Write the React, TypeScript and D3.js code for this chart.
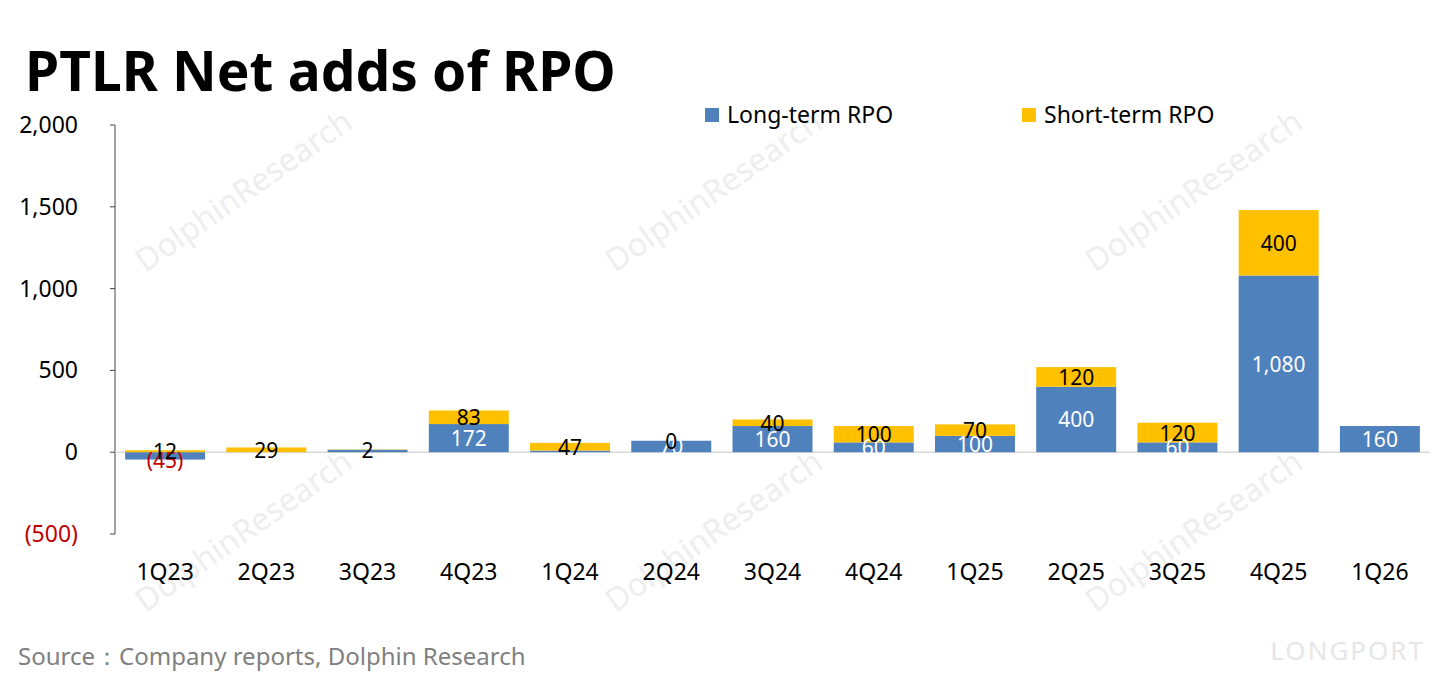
import { useRef, useEffect } from "react";
import * as d3 from "d3";

const categories = ["1Q23", "2Q23", "3Q23", "4Q23", "1Q24", "2Q24", "3Q24", "4Q24", "1Q25", "2Q25", "3Q25", "4Q25", "1Q26"];
const longTerm = [-45, 0, 15, 172, 10, 70, 160, 60, 100, 400, 60, 1080, 160];
const shortTerm = [12, 29, 2, 83, 47, 0, 40, 100, 70, 120, 120, 400, 0];
const yTicks = [-500, 0, 500, 1000, 1500, 2000];

const BLUE = "#4f81bd";
const GOLD = "#ffc000";
const FONT = "'Noto Sans', 'Open Sans', sans-serif";

export default function App() {
  const ref = useRef<SVGSVGElement | null>(null);

  useEffect(() => {
    const svg = d3.select(ref.current);
    svg.selectAll("*").remove();
    const W = 1440, H = 684;

    svg.append("rect").attr("x", 1).attr("y", 1).attr("width", W - 2).attr("height", H - 2)
      .attr("fill", "#fff").attr("stroke", "#ddd").attr("stroke-width", 2);

    // faint watermarks
    const wm = [[250, 200], [720, 200], [1200, 200], [250, 540], [720, 540], [1200, 540]];
    wm.forEach(([x, y]) => {
      svg.append("text").attr("transform", `translate(${x},${y}) rotate(-35)`)
        .attr("text-anchor", "middle").attr("font-family", FONT).attr("font-size", 32)
        .attr("fill", "#eeeeee").text("DolphinResearch");
    });

    const x = d3.scaleBand<string>().domain(categories).range([115, 1430]).paddingInner(0.21).paddingOuter(0.1);
    const y = d3.scaleLinear().domain([-500, 2000]).range([534, 125]);

    svg.append("text").attr("x", 25).attr("y", 91).attr("font-family", FONT)
      .attr("font-size", 55).attr("font-weight", "bold").text("PTLR Net adds of RPO");

    // axis
    svg.append("line").attr("x1", 115).attr("x2", 115).attr("y1", y(2000)).attr("y2", y(-500)).attr("stroke", "#444");
    yTicks.forEach(t => {
      svg.append("line").attr("x1", 110).attr("x2", 115).attr("y1", y(t)).attr("y2", y(t)).attr("stroke", "#444");
      svg.append("text").attr("x", 78).attr("y", y(t) + 8).attr("text-anchor", "end")
        .attr("font-family", FONT).attr("font-size", 23)
        .attr("fill", t < 0 ? "#c00000" : "#000")
        .text(t < 0 ? `(${d3.format(",")(-t)})` : d3.format(",")(t));
    });
    svg.append("line").attr("x1", 115).attr("x2", 1430).attr("y1", y(0)).attr("y2", y(0)).attr("stroke", "#d9d9d9").attr("stroke-width", 1.5);

    const bw = x.bandwidth();
    categories.forEach((c, i) => {
      const lv = longTerm[i], sv = shortTerm[i];
      const x0 = x(c)!;
      svg.append("rect").attr("x", x0).attr("width", bw)
        .attr("y", y(Math.max(lv, 0))).attr("height", Math.abs(y(lv) - y(0))).attr("fill", BLUE);
      const base = Math.max(lv, 0);
      if (sv > 0) svg.append("rect").attr("x", x0).attr("width", bw)
        .attr("y", y(base + sv)).attr("height", y(base) - y(base + sv)).attr("fill", GOLD);
      const cx = x0 + bw / 2;
      if (lv < 0) {
        svg.append("text").attr("x", cx).attr("y", y(0) + 16).attr("text-anchor", "middle")
          .attr("font-family", FONT).attr("font-size", 21).attr("fill", "#c00000").text(`(${-lv})`);
      } else if (lv >= 45) {
        svg.append("text").attr("x", cx).attr("y", (y(lv) + y(0)) / 2 + 8).attr("text-anchor", "middle")
          .attr("font-family", FONT).attr("font-size", 21).attr("fill", "#fff").text(d3.format(",")(lv));
      }
      if (i < categories.length - 1) {
        svg.append("text").attr("x", cx).attr("y", (y(base + sv) + y(base)) / 2 + 8).attr("text-anchor", "middle")
          .attr("font-family", FONT).attr("font-size", 21).attr("fill", "#000").text(d3.format(",")(sv));
      }
      svg.append("text").attr("x", cx).attr("y", 580).attr("text-anchor", "middle")
        .attr("font-family", FONT).attr("font-size", 23).text(c);
    });

    // legend
    [[BLUE, "Long-term RPO", 705], [GOLD, "Short-term RPO", 1022]].forEach(([col, lab, lx]) => {
      svg.append("rect").attr("x", +lx).attr("y", 108).attr("width", 14).attr("height", 14).attr("fill", col as string);
      svg.append("text").attr("x", +lx + 22).attr("y", 123).attr("font-family", FONT).attr("font-size", 23).text(lab as string);
    });

    svg.append("text").attr("x", 18).attr("y", 665).attr("font-family", FONT).attr("font-size", 24)
      .attr("fill", "#808080").text("Source：Company reports, Dolphin Research");
    svg.append("text").attr("x", 1425).attr("y", 660).attr("text-anchor", "end").attr("font-family", FONT)
      .attr("font-size", 26).attr("letter-spacing", 2).attr("fill", "#e6e6e6").text("LONGPORT");
  }, []);

  return <svg ref={ref} width={1440} height={684} style={{ display: "block", margin: -8 }} />;
}
